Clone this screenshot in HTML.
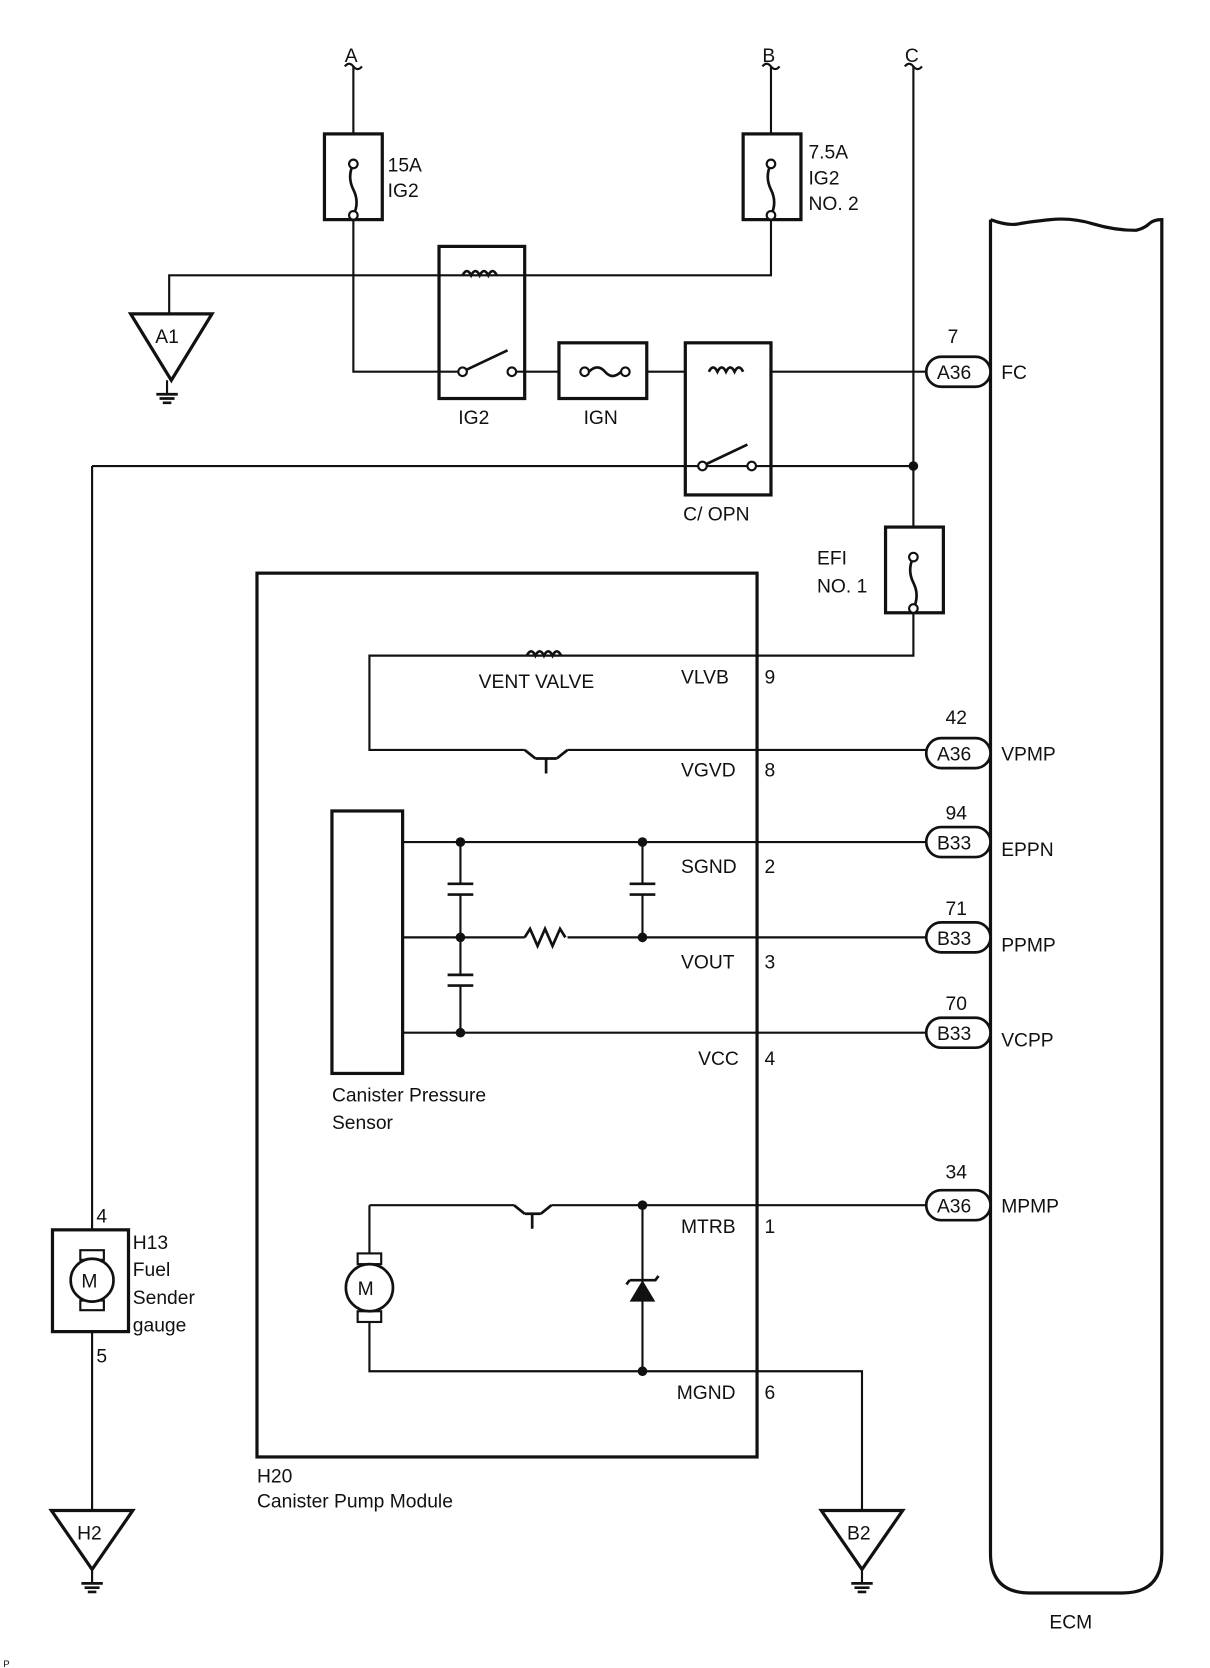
<!DOCTYPE html>
<html><head><meta charset="utf-8"><style>
html,body{margin:0;padding:0;background:#fff;}
svg{display:block;}
text{font-family:"Liberation Sans",Arial,sans-serif;font-size:18px;fill:#111;}
</style></head><body>
<svg width="1210" height="1668" viewBox="0 0 1130 1557" preserveAspectRatio="none" xmlns="http://www.w3.org/2000/svg">
<g fill="none" stroke="#111" stroke-width="2">
<path d="M330 62V125M330 205V347H432"/>
<path d="M720 62V125M720 205V257H158V293"/>
<path d="M853 62V492M853 572V612H345V700H490M530 700H865"/>
<path d="M482 347H522M604 347H640M720 347H865"/>
<path d="M86 435H853M86 435V1148M86 1243V1410"/>
<path d="M322 62q4-5 8 0t8 0M712 62q4-5 8 0t8 0M845 62q4-5 8 0t8 0"/>
<path d="M376 786H865M376 875H490M530 875H865M376 964H865"/>
<path d="M430 786V825M430 835V910M430 920V964M600 786V825M600 835V875"/>
<path d="M345 1125H480M515 1125H865M345 1125V1180M345 1224V1280H805V1410M600 1125V1280"/>
<path d="M156 355V368M86 1465V1478M805 1465V1478"/>
</g>
<g fill="none" stroke="#111" stroke-width="3">
<rect x="303" y="125" width="54" height="80"/>
<rect x="694" y="125" width="54" height="80"/>
<rect x="827" y="492" width="54" height="80"/>
<rect x="410" y="230" width="80" height="142"/>
<rect x="522" y="320" width="82" height="52"/>
<rect x="640" y="320" width="80" height="142"/>
<rect x="240" y="535" width="467" height="825"/>
<rect x="310" y="757" width="66" height="245"/>
<rect x="49" y="1148" width="71" height="95"/>
<path d="M925 205V1450q0 37 37 37h86q37 0 37-37V205q-8 0-12 4t-12 6q-20 0-40-6t-40-4t-30 4t-26-4"/>
<path d="M122 293H198L160 355Z"/>
<path d="M48 1410H124L86 1465Z"/>
<path d="M767 1410H843L805 1465Z"/>
</g>
<g fill="none" stroke="#111" stroke-width="2.5">
<path d="M418 825h24M418 835h24M418 910h24M418 920h24M588 825h24M588 835h24"/>
<path d="M330 153q-6 12 0 24t0 24"/>
<path d="M720 153q-6 12 0 24t0 24"/>
<path d="M853 520q-6 12 0 24t0 24"/>
<path d="M550 347q8-8 15 0t15 0"/>
<path d="M432 257q4-8 8 0q4-8 8 0q4-8 8 0q4-8 8 0M662 347q4-8 8 0q4-8 8 0q4-8 8 0q4-8 8 0M492 612q4-8 8 0q4-8 8 0q4-8 8 0q4-8 8 0"/>
<path d="M436 345l38-18M660 433l38-18"/>
<path d="M490 875l5-8 7 16 7-16 7 16 7-16 5 8"/>
<path d="M490 700l10 8M530 700l-10 8M500 708h20M510 708v14M480 1125l10 8M515 1125l-10 8M490 1133h15M497 1133v14"/>
<path d="M146 368h20M149 372h14M152 376h8M76 1478h20M79 1482h14M82 1486h8M795 1478h20M798 1482h14M801 1486h8"/>
<path d="M588 1195h24l3-4M588 1195l-3 4"/>
</g>
<g fill="#fff" stroke="#111" stroke-width="2">
<circle cx="330" cy="153" r="4"/><circle cx="330" cy="201" r="4"/>
<circle cx="720" cy="153" r="4"/><circle cx="720" cy="201" r="4"/>
<circle cx="853" cy="520" r="4"/><circle cx="853" cy="568" r="4"/>
<circle cx="432" cy="347" r="4"/><circle cx="478" cy="347" r="4"/>
<circle cx="546" cy="347" r="4"/><circle cx="584" cy="347" r="4"/>
<circle cx="656" cy="435" r="4"/><circle cx="702" cy="435" r="4"/>
<rect x="334" y="1170" width="22" height="10"/><rect x="334" y="1224" width="22" height="10"/>
<rect x="75" y="1167" width="22" height="9"/><rect x="75" y="1214" width="22" height="9"/>
<circle cx="345" cy="1202" r="22" stroke-width="2.5"/>
<circle cx="86" cy="1195" r="20" stroke-width="2.5"/>
<rect x="865" y="333" width="60" height="28" rx="14" stroke-width="2.5"/>
<rect x="865" y="689" width="60" height="28" rx="14" stroke-width="2.5"/>
<rect x="865" y="772" width="60" height="28" rx="14" stroke-width="2.5"/>
<rect x="865" y="861" width="60" height="28" rx="14" stroke-width="2.5"/>
<rect x="865" y="950" width="60" height="28" rx="14" stroke-width="2.5"/>
<rect x="865" y="1111" width="60" height="28" rx="14" stroke-width="2.5"/>
</g>
<g fill="#111">
<path d="M588 1215h24l-12-20z"/>
<circle cx="853" cy="435" r="4.5"/>
<circle cx="430" cy="786" r="4.5"/><circle cx="430" cy="875" r="4.5"/><circle cx="430" cy="964" r="4.5"/>
<circle cx="600" cy="786" r="4.5"/><circle cx="600" cy="875" r="4.5"/>
<circle cx="600" cy="1125" r="4.5"/><circle cx="600" cy="1280" r="4.5"/>
</g>
<g>
<text x="322" y="58">A</text><text x="712" y="58">B</text><text x="845" y="58">C</text>
<text x="362" y="160">15A</text><text x="362" y="184">IG2</text>
<text x="755" y="148">7.5A</text><text x="755" y="172">IG2</text><text x="755" y="196">NO. 2</text>
<text x="145" y="320">A1</text>
<text x="428" y="396">IG2</text><text x="545" y="396">IGN</text><text x="638" y="486">C/ OPN</text>
<text x="763" y="527">EFI</text><text x="763" y="553">NO. 1</text>
<text x="885" y="320">7</text><text x="875" y="354">A36</text><text x="935" y="354">FC</text>
<text x="447" y="642">VENT VALVE</text>
<text x="636" y="638">VLVB</text><text x="714" y="638">9</text>
<text x="636" y="725">VGVD</text><text x="714" y="725">8</text>
<text x="636" y="815">SGND</text><text x="714" y="815">2</text>
<text x="636" y="904">VOUT</text><text x="714" y="904">3</text>
<text x="652" y="994">VCC</text><text x="714" y="994">4</text>
<text x="636" y="1151">MTRB</text><text x="714" y="1151">1</text>
<text x="632" y="1306">MGND</text><text x="714" y="1306">6</text>
<text x="883" y="676">42</text><text x="875" y="710">A36</text><text x="935" y="710">VPMP</text>
<text x="883" y="765">94</text><text x="875" y="793">B33</text><text x="935" y="799">EPPN</text>
<text x="883" y="854">71</text><text x="875" y="882">B33</text><text x="935" y="888">PPMP</text>
<text x="883" y="943">70</text><text x="875" y="971">B33</text><text x="935" y="977">VCPP</text>
<text x="883" y="1100">34</text><text x="875" y="1132">A36</text><text x="935" y="1132">MPMP</text>
<text x="310" y="1028">Canister Pressure</text><text x="310" y="1054">Sensor</text>
<text x="334" y="1209">M</text><text x="76" y="1202">M</text>
<text x="90" y="1141">4</text><text x="90" y="1272">5</text>
<text x="124" y="1166">H13</text><text x="124" y="1191">Fuel</text><text x="124" y="1217">Sender</text><text x="124" y="1243">gauge</text>
<text x="240" y="1384">H20</text><text x="240" y="1407">Canister Pump Module</text>
<text x="72" y="1437">H2</text><text x="791" y="1437">B2</text>
<text x="980" y="1520">ECM</text>
<text x="3" y="1556" style="font-size:9px">P</text>
</g>
</svg>
</body></html>
